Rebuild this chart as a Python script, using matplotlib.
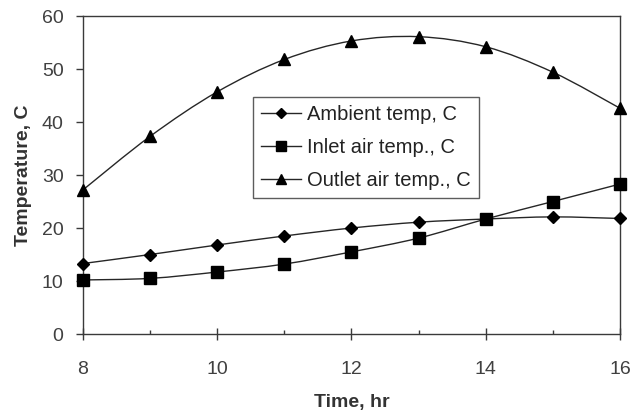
import numpy as np
import matplotlib
matplotlib.use("Agg")
import matplotlib.pyplot as plt
from matplotlib.path import Path
from matplotlib.patches import PathPatch
from matplotlib.lines import Line2D

plt.rcParams['font.family'] = ['Liberation Sans', 'DejaVu Sans']

hours = [8, 9, 10, 11, 12, 13, 14, 15, 16]
ambient = [13.3, 15.0, 16.8, 18.5, 20.0, 21.1, 21.7, 22.1, 21.8]
inlet = [10.2, 10.5, 11.7, 13.2, 15.5, 18.1, 21.7, 25.0, 28.3]
outlet = [27.2, 37.3, 45.7, 51.8, 55.3, 56.1, 54.2, 49.4, 42.6]
labels = ["Ambient temp, C", "Inlet air temp., C", "Outlet air temp., C"]
markers = ["D", "s", "^"]
msizes = [6, 8, 8.5]
leg_msizes = [5.5, 6.5, 7.5]

fig = plt.figure(figsize=(6.37, 4.11), dpi=100)
ax = fig.add_axes([0.1303, 0.1873, 0.9733 - 0.1303, 0.961 - 0.1873])


def smooth_path(x, y, t=1/6):
    # Excel-like smoothed line: cubic Bezier through points (Catmull-Rom control points)
    x = np.asarray(x, float); y = np.asarray(y, float)
    verts = [(x[0], y[0])]
    codes = [Path.MOVETO]
    n = len(x)
    for i in range(n - 1):
        p0 = np.array([x[max(i - 1, 0)], y[max(i - 1, 0)]])
        p1 = np.array([x[i], y[i]])
        p2 = np.array([x[i + 1], y[i + 1]])
        p3 = np.array([x[min(i + 2, n - 1)], y[min(i + 2, n - 1)]])
        c1 = p1 + (p2 - p0) * t
        c2 = p2 - (p3 - p1) * t
        verts += [tuple(c1), tuple(c2), tuple(p2)]
        codes += [Path.CURVE4] * 3
    return Path(verts, codes)


handles = []
for ys, lab, mk, ms, lms in zip([ambient, inlet, outlet], labels, markers, msizes, leg_msizes):
    ax.add_patch(PathPatch(smooth_path(hours, ys), facecolor='none',
                           edgecolor='#262626', lw=1.0, zorder=2))
    ax.plot(hours, ys, linestyle='none', marker=mk, markersize=ms,
            color='black', zorder=3, clip_on=False)
    handles.append(Line2D([], [], color='#262626', lw=1.0, marker=mk,
                          markersize=lms, markerfacecolor='black',
                          markeredgecolor='black'))

ax.set_xlim(8, 16)
ax.set_ylim(0, 60)
ax.set_xticks([8, 10, 12, 14, 16])
ax.set_xticks([9, 11, 13, 15], minor=True)
ax.set_yticks(range(0, 61, 10))

for s in ax.spines.values():
    s.set_color('#3a3a3a')
    s.set_linewidth(1.0)

ax.tick_params(axis='x', which='major', direction='inout', length=8.5, width=1,
               color='#3a3a3a', labelsize=14, labelcolor='#404040', pad=15)
ax.tick_params(axis='x', which='minor', direction='in', length=3, width=1,
               color='#3a3a3a')
ax.tick_params(axis='y', which='major', direction='out', length=5, width=1,
               color='#3a3a3a', labelsize=14, labelcolor='#404040', pad=9)

ax.set_xlabel("Time, hr", fontsize=14, fontweight='bold', color='#333333', labelpad=12)
ax.set_ylabel("Temperature, C", fontsize=14, fontweight='bold', color='#333333', labelpad=7)

leg = ax.legend(handles, labels, loc='upper left', bbox_to_anchor=(0.3166, 0.745),
                fontsize=14.5, frameon=True, fancybox=False, edgecolor='#333333',
                handlelength=2.0, handletextpad=0.3, borderpad=0.4,
                labelspacing=0.7, borderaxespad=0)
leg.get_frame().set_linewidth(1.0)
for t in leg.get_texts():
    t.set_color('#222222')

fig.savefig("out.png", dpi=100)
